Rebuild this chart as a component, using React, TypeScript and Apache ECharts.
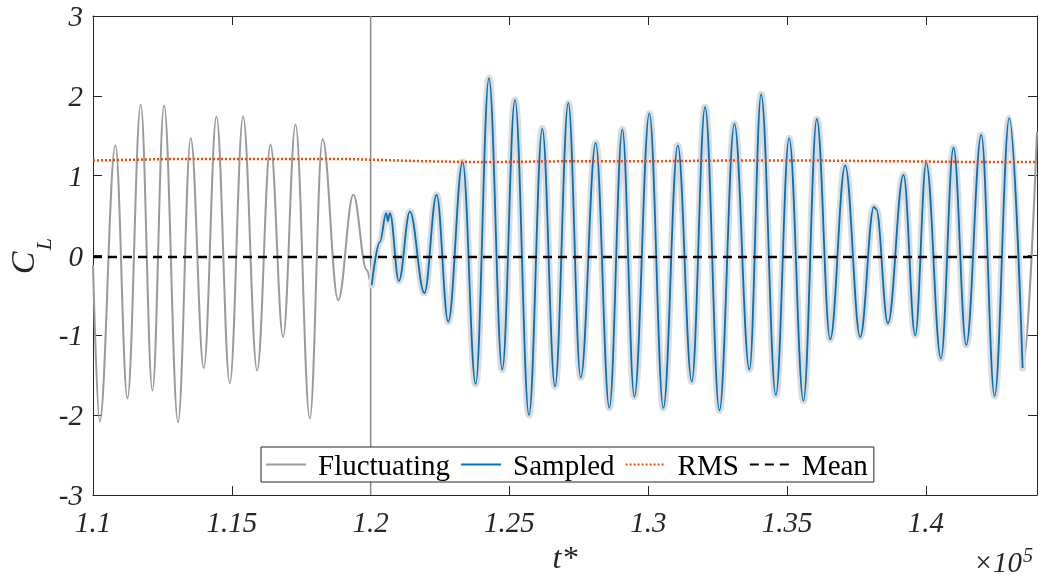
import React, { useEffect, useRef } from "react";
import * as echarts from "echarts";

// Lift-coefficient signal: turning points (t*, C_L)
const signalT = [
  110000, 110241, 110807, 111240, 111719, 112141, 112559, 113063, 113521, 113990,
  114447, 114927, 115406, 115911, 116393, 116848, 117294, 117810, 118268, 118830,
  119378, 119853, 120040, 120333, 120560, 120621, 120693, 121017, 121414, 121936,
  122376, 122794, 123313, 123782, 124261, 124740, 125198, 125703, 126182, 126640,
  127119, 127566, 128106, 128597, 129065, 129498, 130038, 130543, 131062, 131566,
  132046, 132561, 133102, 133642, 134064, 134594, 135073, 135588, 136071, 136551,
  137091, 137632, 138126, 138210, 138630, 139192, 139614, 140011, 140540, 140994,
  141452, 141993, 142472, 143002, 143481, 144000,
];
const signalCL = [
  -0.12, -2.08, 1.38, -1.79, 1.89, -1.69, 1.88, -2.09, 1.47, -1.41,
  1.74, -1.6, 1.74, -1.44, 1.39, -1.02, 1.64, -2.04, 1.46, -0.56,
  0.76, -0.18, -0.37, 0.17, 0.53, 0.43, 0.53, -0.32, 0.55, -0.47,
  0.76, -0.83, 1.17, -1.61, 2.22, -1.43, 1.95, -2.0, 1.59, -1.64,
  1.91, -1.53, 1.41, -1.91, 1.58, -1.77, 1.78, -1.91, 1.38, -1.58,
  1.86, -1.94, 1.65, -1.43, 2.02, -1.75, 1.47, -1.82, 1.71, -1.05,
  1.13, -1.02, 0.61, 0.58, -0.85, 1.01, -1.0, 1.16, -1.29, 1.35,
  -1.12, 1.51, -1.76, 1.72, -1.41, 1.55,
];
const sampleStartT = 120040;
const sampleEndT = 143481;
const windowT = 120000;

const rmsT = [110000, 113000, 116000, 119000, 120000, 122000, 124000, 127000, 130000, 133000, 136000, 139000, 142000, 144000];
const rmsCL = [1.19, 1.21, 1.21, 1.21, 1.2, 1.18, 1.17, 1.18, 1.18, 1.19, 1.19, 1.18, 1.17, 1.17];
const meanT = [110000, 144000];
const meanCL = [-0.02, -0.02];

const legendNames = ["Fluctuating", "Sampled", "RMS", "Mean"];
const xMin = 110000;
const xMax = 144000;
const xStep = 5000;
const yMin = -3;
const yMax = 3;
const yStep = 1;

export default function App() {
  const ref = useRef<HTMLDivElement>(null);
  useEffect(() => {
    const chart = echarts.init(ref.current!, null, { renderer: "svg" });
    const font = "Liberation Serif";
    const axisColor = "#262626";
    const signal = signalT.map((t, i) => [t, signalCL[i]]);
    const sampled = signal.filter((p) => p[0] >= sampleStartT && p[0] <= sampleEndT);
    const rms = rmsT.map((t, i) => [t, rmsCL[i]]);
    const mean = meanT.map((t, i) => [t, meanCL[i]]);

    const baseX = {
      type: "value",
      min: xMin,
      max: xMax,
      interval: xStep,
      axisLine: { show: true, onZero: false, lineStyle: { color: axisColor, width: 1 } },
      axisTick: { show: true, inside: true, length: 9, lineStyle: { color: axisColor } },
      splitLine: { show: false },
    };
    const baseY = {
      type: "value",
      min: yMin,
      max: yMax,
      interval: yStep,
      axisLine: { show: true, onZero: false, lineStyle: { color: axisColor, width: 1 } },
      axisTick: { show: true, inside: true, length: 9, lineStyle: { color: axisColor } },
      splitLine: { show: false },
    };

    const lineBase = {
      type: "line",
      showSymbol: false,
      symbol: "none",
      silent: true,
      animation: false,
    };

    chart.setOption({
      animation: false,
      textStyle: { fontFamily: font },
      grid: { left: 93, right: 16, top: 16, bottom: 84, containLabel: false, outerBoundsMode: "none" },
      xAxis: [
        {
          ...baseX,
          position: "bottom",
          name: "t*",
          nameLocation: "middle",
          nameGap: 46,
          nameTextStyle: { fontFamily: font, fontStyle: "italic", fontSize: 32, color: axisColor },
          axisLabel: {
            show: true,
            margin: 12,
            fontFamily: font,
            fontStyle: "italic",
            fontSize: 29,
            color: axisColor,
            formatter: (v: number) => (v % xStep === 0 ? String(+(v / 1e5).toFixed(2)) : ""),
          },
        },
        { ...baseX, position: "top", axisLabel: { show: false } },
      ],
      yAxis: [
        {
          ...baseY,
          position: "left",
          axisLabel: { show: true, margin: 10, fontFamily: font, fontStyle: "italic", fontSize: 29, color: axisColor },
        },
        { ...baseY, position: "right", axisLabel: { show: false } },
      ],
      legend: {
        data: legendNames,
        left: 261,
        top: 447,
        orient: "horizontal",
        itemWidth: 40,
        itemHeight: 14,
        itemGap: 10,
        padding: [3, 6, 3, 4],
        backgroundColor: "#ffffff",
        borderColor: axisColor,
        borderWidth: 1,
        borderRadius: 0,
        selectedMode: false,
        itemStyle: { opacity: 0 },
        textStyle: { fontFamily: font, fontSize: 29, color: "#000", padding: [0, 0, 0, 7] },
      },
      graphic: [
        {
          type: "text",
          x: 22,
          y: 263,
          rotation: Math.PI / 2,
          style: { text: "C", fontFamily: font, fontStyle: "italic", fontSize: 34, fill: axisColor, align: "center", verticalAlign: "middle" },
        },
        {
          type: "text",
          x: 43,
          y: 244,
          rotation: Math.PI / 2,
          style: { text: "L", fontFamily: font, fontStyle: "italic", fontSize: 22, fill: axisColor, align: "center", verticalAlign: "middle" },
        },
        {
          type: "text",
          x: 1022,
          y: 576,
          style: { text: "×10", fontFamily: font, fontStyle: "italic", fontSize: 29, fill: axisColor, align: "right", verticalAlign: "bottom" },
        },
        {
          type: "text",
          x: 1023,
          y: 565,
          style: { text: "5", fontFamily: font, fontStyle: "italic", fontSize: 20, fill: axisColor, align: "left", verticalAlign: "bottom" },
        },
      ],
      series: [
        {
          ...lineBase,
          name: "Fluctuating",
          data: signal,
          smooth: 0.38,
          smoothMonotone: "x",
          z: 2,
          lineStyle: { color: "#9a9a9a", width: 2 },
          itemStyle: { color: "#9a9a9a" },
        },
        {
          ...lineBase,
          name: "window",
          data: [
            [windowT, yMin],
            [windowT, yMax],
          ],
          z: 3,
          lineStyle: { color: "#8a8a8a", width: 1.5 },
          itemStyle: { color: "#8a8a8a" },
        },
        {
          ...lineBase,
          name: "halo",
          data: sampled,
          smooth: 0.38,
          smoothMonotone: "x",
          z: 4,
          lineStyle: { color: "#dcdcdc", width: 7, cap: "round", join: "round" },
          itemStyle: { color: "#dcdcdc" },
        },
        {
          ...lineBase,
          name: "Sampled",
          data: sampled,
          smooth: 0.38,
          smoothMonotone: "x",
          z: 5,
          lineStyle: { color: "#0072bd", width: 1.8 },
          itemStyle: { color: "#0072bd" },
        },
        {
          ...lineBase,
          name: "RMS",
          data: rms,
          z: 6,
          lineStyle: { color: "#ff4500", width: 2.5, type: [2, 2] },
          itemStyle: { color: "#ff4500" },
        },
        {
          ...lineBase,
          name: "Mean",
          data: mean,
          z: 6,
          lineStyle: { color: "#000000", width: 2.5, type: [9, 6] },
          itemStyle: { color: "#000000" },
        },
      ],
    });
    return () => chart.dispose();
  }, []);
  return <div ref={ref} style={{ position: "fixed", left: 0, top: 0, width: 1053, height: 579 }} />;
}
